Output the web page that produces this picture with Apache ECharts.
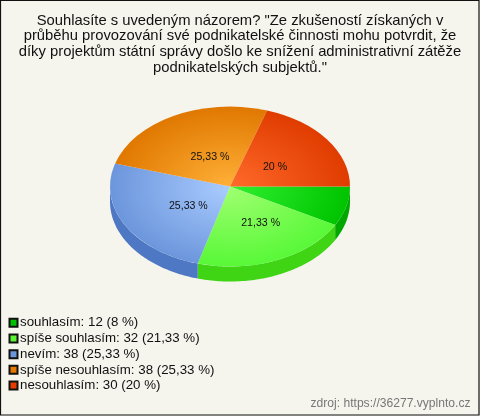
<!DOCTYPE html>
<html><head><meta charset="utf-8">
<style>html,body{margin:0;padding:0;background:#f5f4ed}#c{width:480px;height:416px}</style>
<script src="https://cdn.jsdelivr.net/npm/echarts@6/dist/echarts.min.js"></script>
</head><body><div id="c"></div>
<script>
const titleLines = [
  'Souhlasíte s uvedeným názorem? "Ze zkušeností získaných v',
  'průběhu provozování své podnikatelské činnosti mohu potvrdit, že',
  'díky projektům státní správy došlo ke snížení administrativní zátěže',
  'podnikatelských subjektů."'
];
const categories = ['souhlasím','spíše souhlasím','nevím','spíše nesouhlasím','nesouhlasím'];
const values = [12,32,38,38,30];
const percents = ['8','21,33','25,33','25,33','20'];
const swatch = ['#00c000','#5cf531','#6c96dc','#e67a00','#e63c00'];
const inner  = ['#30f030','#a0ff70','#aaccff','#ffb038','#ff6a2a'];
const outer  = ['#00c400','#58f838','#6c96dc','#e07800','#e03c00'];
const side   = ['#00a800','#3fd414','#4f78c4','#b86000','#b83000'];
const source = 'zdroj: https://36277.vyplnto.cz';

const cx=230, cy=186.5, rx=120, ry=80, depth=15;
const labelAt = [null,[0.659,0.5],[0.396,0.52],[0.36,0.42],[0.464,0.405]];
const total = values.reduce((a,b)=>a+b,0);
const ang=[]; let acc=0;
values.forEach(v=>{const s=acc/total*2*Math.PI;acc+=v;ang.push([s,acc/total*2*Math.PI]);});

function sidePoly(a0,a1){
  const s=Math.max(a0,0), e=Math.min(a1,Math.PI);
  if(e<=s) return null;
  const n=Math.max(2,Math.ceil((e-s)/0.02)), top=[], bot=[];
  for(let i=0;i<=n;i++){const t=s+(e-s)*i/n;
    const x=cx+rx*Math.cos(t), y=cy+ry*Math.sin(t);
    top.push([x,y]); bot.unshift([x,y+depth]);}
  return top.concat(bot);
}
function sliceSeries(i){
  return {
    type:'custom', name:categories[i], coordinateSystem:'none', silent:true, animation:false,
    itemStyle:{color:swatch[i],borderColor:'#111',borderWidth:1},
    data:[values[i]],
    renderItem(){
      const [a0,a1]=ang[i], ch=[];
      const poly=sidePoly(a0,a1);
      if(poly) ch.push({type:'polygon',z2:1,shape:{points:poly},style:{fill:side[i]}});
      ch.push({type:'sector',z2:2,x:0,y:cy,scaleX:1,scaleY:ry/rx,
        shape:{cx:cx,cy:0,r0:0,r:rx,startAngle:a0,endAngle:a1,clockwise:true},
        style:{fill:{type:'radial',x:cx,y:0,r:rx,global:true,
          colorStops:[{offset:0,color:inner[i]},{offset:1,color:outer[i]}]}}});
      if(labelAt[i]){
        const m=(a0+a1)/2;
        ch.push({type:'text',z2:3,x:cx+rx*labelAt[i][0]*Math.cos(m),y:cy+ry*labelAt[i][1]*Math.sin(m),
          style:{text:percents[i]+' %',fill:'#111',font:'10.6px "Liberation Sans"',align:'center',verticalAlign:'middle'}});
      }
      return {type:'group',children:ch};
    }
  };
}
const chart=echarts.init(document.getElementById('c'),null,{renderer:'canvas'});
chart.setOption({
  animation:false,
  backgroundColor:'#f5f4ed',
  title:{text:titleLines.join('\n'),left:'center',top:8,
    textStyle:{fontFamily:'Liberation Sans',fontSize:14.8,fontWeight:'normal',color:'#111',lineHeight:15.6}},
  legend:{orient:'vertical',left:3.5,top:311,itemWidth:8,itemHeight:8,itemGap:2.2,icon:'rect',selectedMode:false,
    data:categories,
    formatter:n=>{const i=categories.indexOf(n);return n+': '+values[i]+' ('+percents[i]+' %)';},
    textStyle:{fontFamily:'Liberation Sans',fontSize:13.3,color:'#111',padding:[0,0,0,-2.5],lineHeight:13.5}},
  series:categories.map((_,i)=>sliceSeries(i)),
  graphic:[
    {type:'rect',shape:{x:0.5,y:0.5,width:478.5,height:414.5},style:{fill:'none',stroke:'#111',lineWidth:1.2},silent:true},
    {type:'text',right:9.5,top:398,style:{text:source,fill:'#777',font:'12.1px "Liberation Sans"'},silent:true}
  ]
});
</script></body></html>
